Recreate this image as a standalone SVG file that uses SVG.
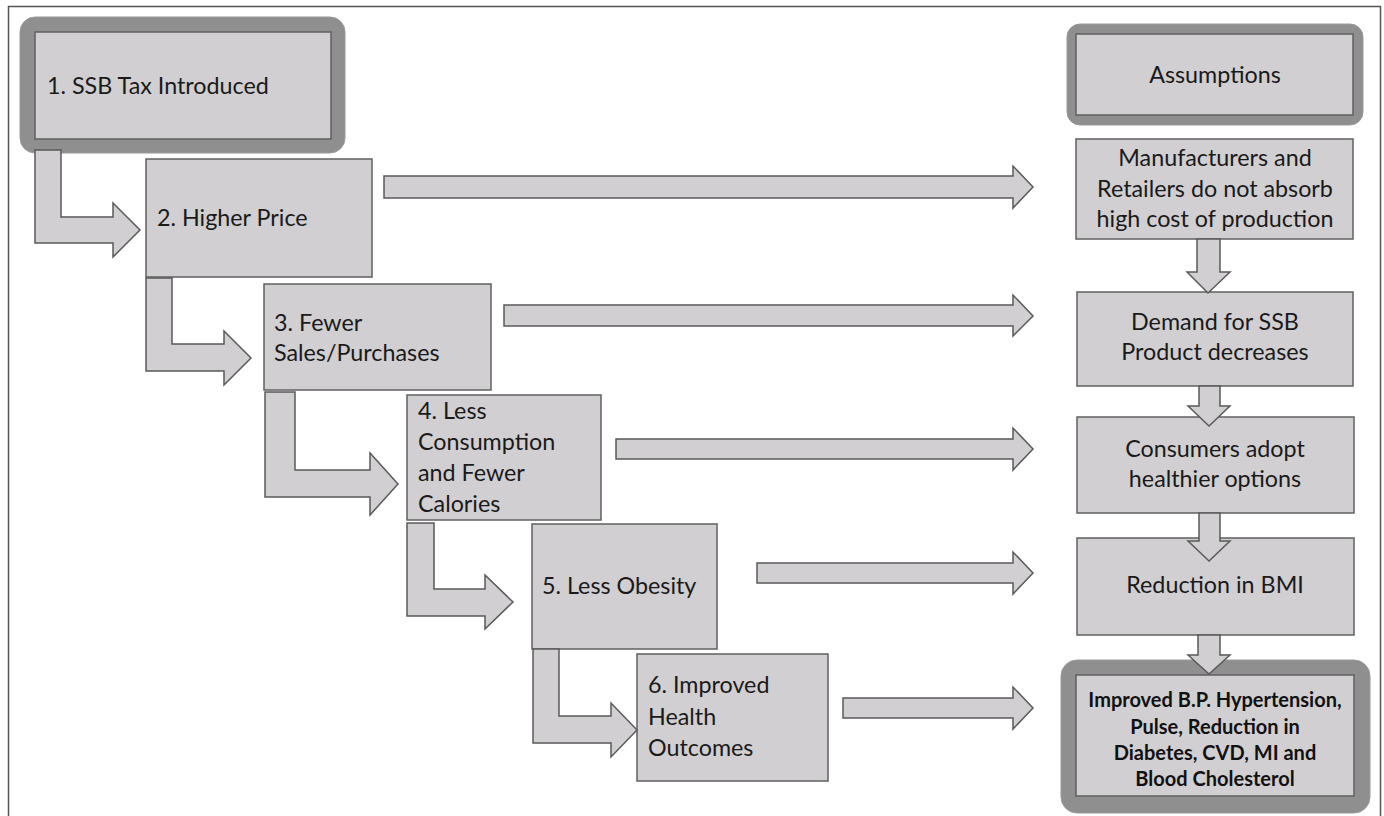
<svg xmlns="http://www.w3.org/2000/svg" width="1384" height="816" viewBox="0 0 1384 816">
<style>
.box{fill:#d1cfd1;stroke:#606060;stroke-width:1.5}
.ring{fill:#8f8f8f;stroke:#9a9a9a;stroke-width:1}
.arr{fill:#d1cfd1;stroke:#5a5a5a;stroke-width:1.5;stroke-linejoin:miter}
.t{font-family:Lato,"Open Sans","Liberation Sans",sans-serif;font-size:23.3px;fill:#1a1a1a}
.c{text-anchor:middle}
.b{font-family:Lato,"Open Sans","Liberation Sans",sans-serif;font-size:20px;font-weight:bold;fill:#111;text-anchor:middle}
</style>
<rect width="1384" height="816" fill="#ffffff"/>
<rect x="8.5" y="6.5" width="1372" height="830" fill="none" stroke="#555" stroke-width="1.5"/>

<g id="node1">
<rect class="ring" x="20" y="17" width="325" height="136" rx="15"/>
<rect class="box" x="35" y="32" width="296" height="107"/>
<text class="t" x="47" y="94">1. SSB Tax Introduced</text>
</g>
<g id="node2">
<rect class="box" x="146" y="159" width="226" height="118"/>
<text class="t" x="157" y="226">2. Higher Price</text>
</g>
<g id="node3">
<rect class="box" x="264" y="284" width="227" height="106"/>
<text class="t" x="274" y="331">3. Fewer</text>
<text class="t" x="274" y="361">Sales/Purchases</text>
</g>
<g id="node4">
<rect class="box" x="407" y="395" width="194" height="125"/>
<text class="t" x="418" y="419">4. Less</text>
<text class="t" x="418" y="450">Consumption</text>
<text class="t" x="418" y="481">and Fewer</text>
<text class="t" x="418" y="512">Calories</text>
</g>
<g id="node5">
<rect class="box" x="532" y="524" width="185" height="125"/>
<text class="t" x="542" y="594">5. Less Obesity</text>
</g>
<g id="node6">
<rect class="box" x="637" y="654" width="191" height="127"/>
<text class="t" x="648" y="693">6. Improved</text>
<text class="t" x="648" y="725">Health</text>
<text class="t" x="648" y="756">Outcomes</text>
</g>

<g id="assumptions">
<rect class="ring" x="1067" y="24" width="296" height="101" rx="13"/>
<rect class="box" x="1076" y="34" width="277" height="81"/>
<text class="t c" x="1215" y="83">Assumptions</text>
</g>
<g id="manufacturers">
<rect class="box" x="1076" y="139" width="277" height="100"/>
<text class="t c" x="1215" y="166">Manufacturers and</text>
<text class="t c" x="1215" y="197">Retailers do not absorb</text>
<text class="t c" x="1215" y="227">high cost of production</text>
</g>
<g id="demand">
<rect class="box" x="1077" y="292" width="276" height="94"/>
<text class="t c" x="1215" y="330">Demand for SSB</text>
<text class="t c" x="1215" y="360">Product decreases</text>
</g>
<g id="consumers">
<rect class="box" x="1077" y="417" width="277" height="96"/>
<text class="t c" x="1215" y="457">Consumers adopt</text>
<text class="t c" x="1215" y="487">healthier options</text>
</g>
<g id="bmi">
<rect class="box" x="1077" y="538" width="277" height="97"/>
<text class="t c" x="1215" y="593">Reduction in BMI</text>
</g>
<g id="outcomes">
<rect class="ring" x="1061" y="660" width="309" height="153" rx="16"/>
<rect class="box" x="1076" y="675" width="278" height="121"/>
<text class="b" x="1215" y="707">Improved B.P. Hypertension,</text>
<text class="b" x="1215" y="734">Pulse, Reduction in</text>
<text class="b" x="1215" y="760">Diabetes, CVD, MI and</text>
<text class="b" x="1215" y="786">Blood Cholesterol</text>
</g>

<g id="connectors">
<polygon class="arr" points="35,150 61,150 61,217 113,217 113,203 140,230 113,257 113,243 35,243"/>
<polygon class="arr" points="146,278 172,278 172,344 224,344 224,331 251,358 224,385 224,371 146,371"/>
<polygon class="arr" points="265,392 295,392 295,470 370,470 370,453 398,484 370,515 370,497 265,497"/>
<polygon class="arr" points="407,523 434,523 434,589 485,589 485,575 513,602 485,629 485,616 407,616"/>
<polygon class="arr" points="533,649 559,649 559,716 611,716 611,703 637,730 611,757 611,743 533,743"/>
<polygon class="arr" points="384,176 1013,176 1013,166 1033,187 1013,208 1013,198 384,198"/>
<polygon class="arr" points="504,305 1013,305 1013,295 1033,316 1013,336 1013,326 504,326"/>
<polygon class="arr" points="616,439 1013,439 1013,428 1033,449 1013,470 1013,459 616,459"/>
<polygon class="arr" points="757,563 1013,563 1013,552 1033,573 1013,594 1013,583 757,583"/>
<polygon class="arr" points="843,698 1013,698 1013,687 1033,708 1013,729 1013,718 843,718"/>
<polygon class="arr" points="1197,239 1220,239 1220,272 1230,272 1208,293 1187,272 1197,272"/>
<polygon class="arr" points="1199,386 1220,386 1220,406 1230,406 1209,426 1188,406 1199,406"/>
<polygon class="arr" points="1199,513 1220,513 1220,541 1230,541 1209,561 1188,541 1199,541"/>
<polygon class="arr" points="1198,635 1220,635 1220,655 1230,655 1209,674 1188,655 1198,655"/>
</g>
</svg>
